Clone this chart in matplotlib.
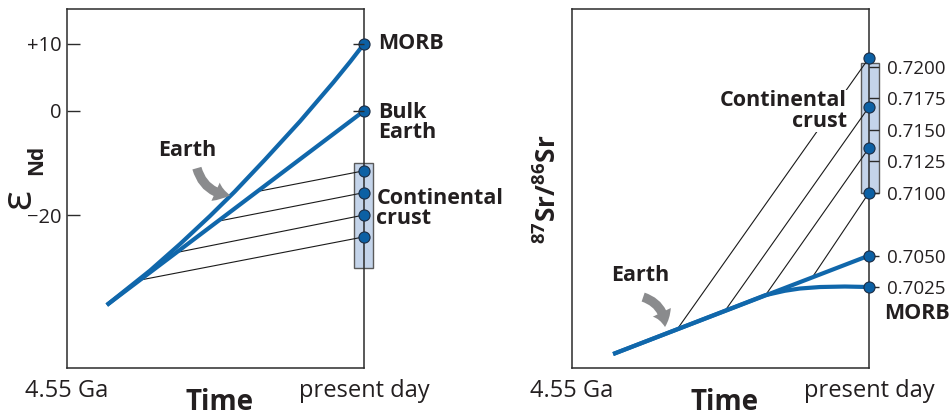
import numpy as np
import matplotlib
matplotlib.use('Agg')
import matplotlib.pyplot as plt
from matplotlib.patches import Rectangle, FancyArrowPatch

plt.rcParams['font.family'] = ['Open Sans', 'DejaVu Sans']
plt.rcParams['mathtext.fontset'] = 'custom'
plt.rcParams['mathtext.rm'] = 'Open Sans'
plt.rcParams['mathtext.bf'] = 'Open Sans:bold'

# Nd evolution (time in Ga before present)
nd_t_morb = [3.94, 3.28, 2.82, 2.36, 1.98, 1.52, 0.98, 0.47, 0.21, 0.0]
nd_morb = [-37.3, -30.7, -25.6, -20.2, -15.5, -9.4, -2.0, 4.25, 7.36, 10.0]
nd_t_bulk = [3.94, 0.0]
nd_bulk = [-37.3, 0.0]
nd_crust_t0 = [1.64, 2.24, 2.87, 3.43]
nd_crust_e0 = [-15.5, -21.2, -27.2, -32.5]
nd_crust_now = [-11.5, -15.7, -20.0, -24.2]
nd_box = [-30.2, -10.0]
nd_ticks = [10, 0, -20]
nd_ticklabels = ['+10', '0', '\u221220']

# Sr evolution
sr_t_bulk = [3.92, 0.0]
sr_bulk = [0.69717, 0.7050]
sr_t_morb = [3.92, 2.59, 1.59, 1.29, 1.06, 0.75, 0.37, 0.0]
sr_morb = [0.69717, 0.69984, 0.70185, 0.70220, 0.70238, 0.70250, 0.70254, 0.7025]
sr_crust_t0 = [2.94, 2.21, 1.59, 0.87]
sr_crust_s0 = [0.69913, 0.70058, 0.70182, 0.70326]
sr_crust_now = [0.72072, 0.71682, 0.71356, 0.7100]
sr_box = [0.7100, 0.72032]
sr_ticks = [0.7200, 0.7175, 0.7150, 0.7125, 0.7100, 0.7050, 0.7025]

time_ticks = [4.55, 0]
time_labels = ['4.55 Ga', 'present day']

blauw = '#1067ab'
stip = '#0c60a4'
rand = '#1d2d44'
grijs = '#8a8b8d'
tekst = '#231f20'
vak = '#c4d4ea'


# epsilon axis is drawn with a larger spacing above zero than below
def vooruit(v):
    v = np.asarray(v, dtype=float)
    return np.where(v >= 0, v * 6.7 / 5.2, v)


def terug(u):
    u = np.asarray(u, dtype=float)
    return np.where(u >= 0, u * 5.2 / 6.7, u)


fig = plt.figure(figsize=(9.53, 4.17), dpi=100)
ax1 = fig.add_axes([67 / 953, 49 / 417, 297 / 953, 359 / 417])
ax2 = fig.add_axes([572 / 953, 49 / 417, 297 / 953, 359 / 417])

for ax in (ax1, ax2):
    ax.set_xlim(4.55, 0)
    for s in ax.spines.values():
        s.set_color('#2b2b2b')
        s.set_linewidth(1.1)
    ax.set_xticks(time_ticks, time_labels)
    ax.tick_params(axis='x', length=0, pad=8, labelsize=17, labelcolor=tekst)
    ax.text(0.515, -0.095, 'Time', transform=ax.transAxes, ha='center', va='center',
            fontsize=20, fontweight='bold', color=tekst)

#%% left panel
ax1.set_yscale('function', functions=(vooruit, terug))
ax1.set_ylim(-49.4, 15.2)
ax1.set_yticks(nd_ticks, nd_ticklabels)
ax1.tick_params(axis='y', direction='in', length=9.5, width=1, pad=4, labelsize=14.5,
                labelcolor=tekst, color='#2b2b2b')

ax1r = ax1.twinx()
ax1r.set_yscale('function', functions=(vooruit, terug))
ax1r.set_ylim(ax1.get_ylim())
ax1r.set_yticks(nd_ticks[:2])
ax1r.tick_params(axis='y', direction='in', length=8, width=1, labelright=False, color='#2b2b2b')
for s in ax1r.spines.values():
    s.set_visible(False)

ax1.add_patch(Rectangle((-0.138, nd_box[0]), 0.291, nd_box[1] - nd_box[0], facecolor=vak,
                        edgecolor='#5a5a5a', lw=1, clip_on=False, zorder=1))
for t0, e0, e1 in zip(nd_crust_t0, nd_crust_e0, nd_crust_now):
    ax1.plot([t0, 0], [e0, e1], color='#1a1a1a', lw=0.8, zorder=2)
ax1.plot(nd_t_bulk, nd_bulk, color=blauw, lw=3, solid_capstyle='butt', zorder=3)
ax1.plot(nd_t_morb, nd_morb, color=blauw, lw=3, solid_capstyle='butt', solid_joinstyle='round', zorder=3)
ax1.plot(np.zeros(6), [10, 0] + nd_crust_now, 'o', ms=8, mfc=stip, mec=rand, mew=0.8,
         clip_on=False, zorder=6)

lab = dict(fontsize=15.5, fontweight='bold', color=tekst, clip_on=False)
ax1.text(-0.214, 10, 'MORB', ha='left', va='center', **lab)
ax1.text(-0.214, -2.2, 'Bulk\nEarth', ha='left', va='center', linespacing=0.95, **lab)
ax1.text(-0.19, -18.8, 'Continental\ncrust', ha='left', va='center', linespacing=0.95, **lab)
ax1.text(2.71, -7.7, 'Earth', ha='center', va='center', **lab)
ax1.add_patch(FancyArrowPatch((2.56, -11.0), (2.05, -16.2), connectionstyle='arc3,rad=0.35',
                              arrowstyle='simple,head_length=1.2,head_width=1.6,tail_width=0.75',
                              mutation_scale=9, color=grijs, lw=0,
                              shrinkA=0, shrinkB=0, zorder=4))

fig.text(21 / 953, 1 - 201 / 417, r'$\mathrm{\varepsilon}$', rotation=90, ha='center',
         va='center', fontsize=30, color=tekst)
fig.text(37 / 953, 1 - 160 / 417, 'Nd', rotation=90, ha='center', va='center',
         fontsize=15, fontweight='bold', color=tekst)

#%% right panel
ax2.set_ylim(0.69606, 0.72461)
ax2.set_yticks(sr_ticks, ['%.4f' % v for v in sr_ticks])
ax2.tick_params(axis='y', left=False, right=True, labelleft=False, labelright=True,
                direction='out', length=7.2, width=1, pad=5.5, labelsize=13.5,
                labelcolor=tekst, color='#2b2b2b')

ax2.add_patch(Rectangle((-0.153, sr_box[0]), 0.276, sr_box[1] - sr_box[0], facecolor=vak,
                        edgecolor='#5a5a5a', lw=1, clip_on=False, zorder=1))
for t0, s0, s1 in zip(sr_crust_t0, sr_crust_s0, sr_crust_now):
    ax2.plot([t0, 0], [s0, s1], color='#1a1a1a', lw=0.8, zorder=2)
ax2.plot(sr_t_bulk, sr_bulk, color=blauw, lw=3, solid_capstyle='butt', zorder=3)
ax2.plot(sr_t_morb, sr_morb, color=blauw, lw=3, solid_capstyle='butt', solid_joinstyle='round', zorder=3)
ax2.plot(np.zeros(6), sr_crust_now + [0.7050, 0.7025], 'o', ms=8, mfc=stip, mec=rand,
         mew=0.8, clip_on=False, zorder=6)

ax2.text(0.337, 0.7165, 'Continental\ncrust', ha='right', va='center', linespacing=0.95,
         bbox=dict(facecolor='white', edgecolor='none', pad=0.5), zorder=4, **lab)
ax2.text(3.51, 0.70338, 'Earth', ha='center', va='center', **lab)
ax2.text(-0.23, 0.70043, 'MORB', ha='left', va='center', **lab)
ax2.add_patch(FancyArrowPatch((3.46, 0.70170), (3.125, 0.69932), connectionstyle='arc3,rad=-0.35',
                              arrowstyle='simple,head_length=1.2,head_width=1.6,tail_width=0.75',
                              mutation_scale=9, color=grijs, lw=0,
                              shrinkA=0, shrinkB=0, zorder=4))

fig.text(548 / 953, 1 - 189 / 417, r'$^{\mathbf{87}}\mathbf{Sr/}^{\mathbf{86}}\mathbf{Sr}$',
         rotation=90, ha='center', va='center', fontsize=19, color=tekst)

fig.savefig('out.png', dpi=100)
